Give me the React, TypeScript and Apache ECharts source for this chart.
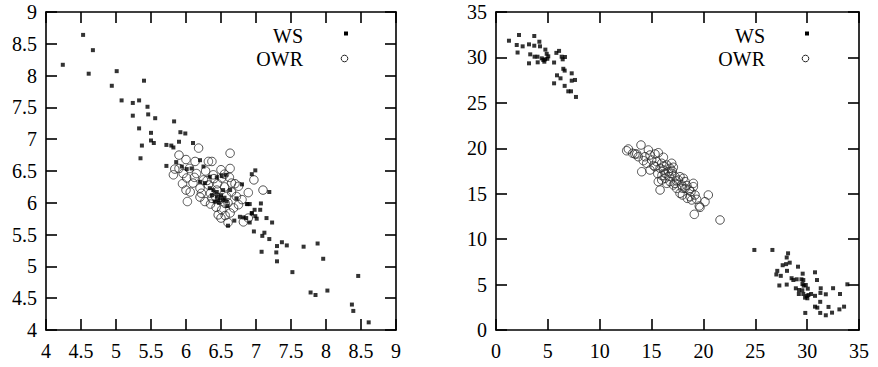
import React, { useEffect, useRef } from "react";
import * as echarts from "echarts";

// Left panel
const leftWS: number[][] = [
  [4.53,8.64],[4.67,8.40],[4.24,8.17],[4.61,8.03],[5.01,8.07],[5.40,7.92],[4.94,7.84],[5.08,7.61],[5.24,7.57],[5.33,7.61],
  [5.45,7.51],[5.24,7.37],[5.46,7.39],[5.56,7.33],[5.83,7.28],[5.33,7.17],[5.50,7.10],[5.92,7.11],[5.99,7.09],[5.50,6.98],
  [5.54,6.94],[5.37,6.90],[5.72,6.91],[5.79,6.90],[5.82,6.87],[5.90,6.96],[6.10,6.94],[5.35,6.70],[5.72,6.58],[5.86,6.64],
  [6.20,6.67],[6.99,6.51],[6.94,6.45],[6.80,6.29],[7.19,6.17],[7.07,5.99],[6.91,5.98],[6.88,5.98],[6.98,5.89],[7.06,5.89],
  [6.94,5.84],[6.99,5.79],[7.01,5.75],[6.77,5.78],[6.86,5.76],[6.91,5.69],[7.15,5.76],[7.23,5.69],[6.69,5.72],[6.60,5.64],
  [6.97,5.55],[7.12,5.53],[7.09,5.48],[7.19,5.43],[7.37,5.38],[7.44,5.33],[7.30,5.32],[7.08,5.23],[7.29,5.22],[7.68,5.31],
  [7.88,5.36],[7.30,5.08],[7.96,5.12],[7.52,4.91],[8.46,4.85],[7.78,4.59],[7.85,4.55],[8.02,4.62],[8.37,4.40],[8.39,4.30],
  [8.61,4.12],
  [5.94,6.57],[6.01,6.53],[6.08,6.54],[6.25,6.57],[6.34,6.41],[6.44,6.40],[6.51,6.42],[6.57,6.44],[6.20,6.33],[6.27,6.31],
  [6.34,6.23],[6.39,6.20],[6.44,6.17],[6.53,6.20],[6.63,6.20],[6.37,6.12],[6.44,6.10],[6.49,6.07],[6.53,6.04],[6.41,6.02],
  [6.46,6.04],[6.58,6.02],[6.72,6.07],[6.87,5.98],[6.59,5.95],[6.94,5.83],[6.82,5.77],[6.50,6.12],[6.47,6.00],[6.55,6.08]
];
const leftOWR: number[][] = [
  [6.18,6.86],[6.63,6.78],[5.90,6.75],[6.00,6.68],[6.32,6.65],[6.37,6.65],[6.13,6.65],[5.84,6.53],[6.05,6.54],[6.63,6.54],
  [6.50,6.52],[5.82,6.44],[5.96,6.46],[6.15,6.46],[6.39,6.44],[6.97,6.36],[6.01,6.39],[6.25,6.36],[6.51,6.39],[6.10,6.31],
  [6.32,6.28],[6.65,6.31],[6.75,6.26],[7.10,6.20],[6.00,6.20],[6.20,6.23],[6.44,6.20],[6.65,6.17],[6.89,6.16],[6.06,6.17],
  [6.02,6.02],[6.20,6.09],[6.27,6.02],[6.37,6.07],[6.58,6.10],[6.72,6.10],[6.75,5.97],[6.43,5.93],[6.51,5.89],[6.63,5.84],
  [6.46,5.81],[6.50,5.76],[6.60,5.69],[6.82,5.70],[6.89,5.76],[6.56,5.99],[6.28,6.50],[6.45,6.30],[6.55,6.25],[6.35,6.15],
  [6.48,6.05],[6.60,6.00],[6.40,6.38],[6.22,6.15],[6.70,6.30],[6.12,6.40],[6.55,6.45],[6.30,6.35],[6.42,6.10],[6.68,5.92],
  [6.56,5.80],[6.35,5.98],[5.95,6.30],[6.80,6.05],[6.62,6.40],[5.90,6.54]
];

// Right panel
const rightWS: number[][] = [
  [1.25,31.84],[2.22,32.47],[2.00,31.37],[2.57,31.22],[3.18,31.44],[3.69,32.36],[3.69,31.29],[4.18,31.73],[4.24,31.22],[2.08,30.54],
  [3.30,30.34],[3.72,30.08],[4.00,30.08],[4.76,30.86],[4.89,30.40],[5.04,30.12],[4.95,29.85],[4.56,29.72],[4.73,29.79],[3.18,29.35],
  [4.02,29.46],[4.66,29.53],[4.41,29.90],[5.60,29.44],[5.82,30.50],[6.08,30.72],[6.33,30.08],[6.65,30.05],[6.43,29.79],[6.49,28.75],
  [6.62,28.55],[5.88,28.03],[6.22,27.70],[7.30,28.25],[5.60,27.15],[6.62,26.87],[7.30,27.44],[7.62,27.52],[6.97,26.27],[7.23,26.27],
  [7.71,25.65],
  [24.91,8.81],[26.65,8.81],[28.16,8.44],[28.03,7.98],[28.32,7.41],[27.97,7.25],[27.64,7.13],[29.12,6.97],[27.12,6.51],[28.06,6.51],
  [27.03,6.11],[27.46,5.96],[29.57,6.20],[30.76,6.35],[28.50,5.70],[28.67,5.50],[28.99,5.58],[29.45,5.58],[29.63,5.50],[30.95,5.50],
  [27.32,4.90],[28.03,5.00],[29.87,4.95],[28.91,4.59],[29.22,4.40],[29.54,4.37],[30.06,4.55],[31.31,4.59],[32.50,4.60],[29.20,3.96],
  [29.63,3.96],[29.96,3.74],[30.12,3.85],[30.38,3.96],[30.76,3.76],[31.28,4.08],[31.80,3.93],[33.17,3.96],[33.88,5.03],[31.26,3.10],
  [30.76,2.57],[30.98,2.46],[32.06,2.54],[33.11,2.27],[33.56,2.57],[29.82,1.88],[31.26,1.88],[31.80,1.62],[32.40,1.91],[29.80,3.56],
  [30.02,3.49],[29.55,5.06],[29.67,4.88]
];
const rightOWR: number[][] = [
  [12.60,19.73],[13.98,20.36],[13.40,19.37],[13.72,19.07],[14.69,19.81],[15.33,19.37],[15.65,19.51],[16.14,19.01],[14.21,18.64],[14.53,18.35],
  [14.05,17.42],[14.85,17.61],[15.33,17.98],[15.82,17.80],[16.94,18.35],[17.10,17.91],[16.30,17.25],[16.62,17.42],[15.65,16.33],[15.98,16.51],
  [15.82,15.41],[16.78,16.33],[17.10,15.96],[17.74,16.87],[18.06,16.70],[18.23,16.33],[17.42,15.59],[17.74,15.05],[17.97,14.86],[18.64,15.41],
  [18.80,15.22],[19.03,15.77],[19.19,14.86],[18.45,14.49],[18.87,14.31],[19.35,14.38],[19.03,16.14],[20.15,14.12],[20.47,14.86],[19.67,13.50],
  [19.12,12.73],[21.60,12.11],[15.01,18.71],[15.49,18.53],[15.98,18.35],[16.46,18.16],[16.78,17.80],[16.14,17.61],[16.94,17.25],[17.26,16.87],
  [17.58,16.51],[17.26,16.14],[17.90,15.96],[18.23,15.59],[18.71,14.67],[16.30,16.70],[16.46,16.14],[14.37,19.07],[14.85,19.26],[12.76,19.92],
  [13.18,19.45],[13.57,19.37],[19.60,13.65],[15.60,17.20],[16.00,17.00],[16.70,16.90],[17.40,16.40],[18.00,15.60],[15.20,18.10],[17.00,17.50],
  [18.40,15.90],[16.20,18.00]
];

const leftRange = { min: 4, max: 9, interval: 0.5 };
const rightRange = { min: 0, max: 35, interval: 5 };
const seriesNames = ["WS", "OWR"];

const FONT = "Liberation Serif";

function axis(range: any, gridIndex: number, position: string, showLabel: boolean) {
  return {
    type: "value",
    gridIndex,
    position,
    min: range.min,
    max: range.max,
    interval: range.interval,
    axisLine: { show: true, onZero: false, lineStyle: { color: "#000", width: 1.6 } },
    axisTick: { show: true, inside: true, length: 11, lineStyle: { color: "#000", width: 1.6 } },
    splitLine: { show: false },
    axisLabel: {
      show: showLabel,
      color: "#000",
      fontFamily: FONT,
      fontSize: 20,
      margin: position === "bottom" ? 11 : 9,
      showMinLabel: true,
      showMaxLabel: true,
    },
  };
}

function legendGraphics(textRight: number, markerX: number) {
  return [
    { type: "text", x: textRight, y: 36, style: { text: seriesNames[0], font: `20px "${FONT}"`, fill: "#000", align: "right", verticalAlign: "middle" } },
    { type: "text", x: textRight, y: 59, style: { text: seriesNames[1], font: `20px "${FONT}"`, fill: "#000", align: "right", verticalAlign: "middle" } },
    { type: "rect", shape: { x: markerX - 2, y: 31.5, width: 4, height: 4 }, style: { fill: "#000" } },
    { type: "circle", shape: { cx: markerX - 1.5, cy: 58.5, r: 3.3 }, style: { fill: "none", stroke: "#222", lineWidth: 1 } },
  ];
}

function wsSeries(data: number[][], xi: number, yi: number) {
  return {
    name: seriesNames[0], type: "scatter", xAxisIndex: xi, yAxisIndex: yi, data,
    symbol: "rect", symbolSize: 4, itemStyle: { color: "#000" },
  };
}
function owrSeries(data: number[][], xi: number, yi: number) {
  return {
    name: seriesNames[1], type: "scatter", xAxisIndex: xi, yAxisIndex: yi, data,
    symbol: "circle", symbolSize: 8.5,
    itemStyle: { color: "rgba(0,0,0,0)", borderColor: "#2a2a2a", borderWidth: 1 },
  };
}

export default function App() {
  const ref = useRef<HTMLDivElement>(null);
  useEffect(() => {
    document.body.style.margin = "0";
    const chart = echarts.init(ref.current!, null, { renderer: "svg" });
    chart.setOption({
      animation: false,
      backgroundColor: "#fff",
      grid: [
        { left: 46, top: 12, width: 350, height: 318 },
        { left: 496, top: 12, width: 363, height: 318 },
      ],
      xAxis: [
        axis(leftRange, 0, "bottom", true),
        axis(leftRange, 0, "top", false),
        axis(rightRange, 1, "bottom", true),
        axis(rightRange, 1, "top", false),
      ],
      yAxis: [
        axis(leftRange, 0, "left", true),
        axis(leftRange, 0, "right", false),
        axis(rightRange, 1, "left", true),
        axis(rightRange, 1, "right", false),
      ],
      graphic: [...legendGraphics(303, 346), ...legendGraphics(765, 807)],
      series: [
        owrSeries(leftOWR, 0, 0),
        wsSeries(leftWS, 0, 0),
        wsSeries(rightWS, 2, 2),
        owrSeries(rightOWR, 2, 2),
      ],
    });
    return () => chart.dispose();
  }, []);
  return <div ref={ref} style={{ width: 878, height: 367 }} />;
}
